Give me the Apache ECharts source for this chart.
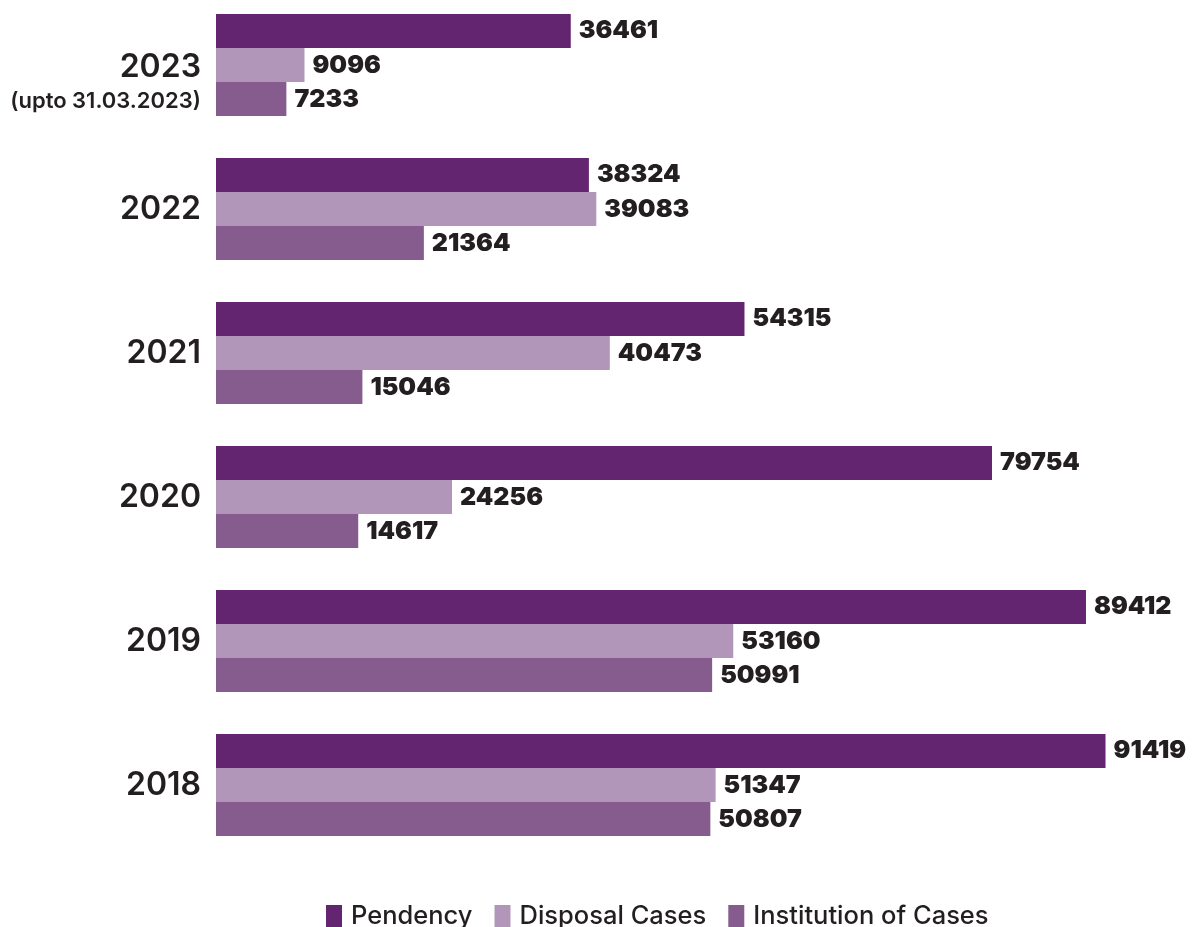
<!DOCTYPE html>
<html>
<head>
<meta charset="utf-8">
<script src="https://cdn.jsdelivr.net/npm/echarts@6/dist/echarts.min.js"></script>
<style>
  html, body { margin: 0; padding: 0; background: #ffffff; overflow: hidden; }
  /* canvas is slightly taller and lifted so the first bar group sits near the top edge */
  #chart { width: 1193px; height: 934px; margin-top: -7px; }
</style>
</head>
<body>
<div id="chart"></div>
<script>
// Years, newest first (top of the chart)
const years = ['2023', '2022', '2021', '2020', '2019', '2018'];
const yearNote = '(upto 31.03.2023)';

const pendency    = [36461, 38324, 54315, 79754, 89412, 91419];
const disposal    = [9096, 39083, 40473, 24256, 53160, 51347];
const institution = [7233, 21364, 15046, 14617, 50991, 50807];

const seriesNames = ['Pendency', 'Disposal Cases', 'Institution of Cases'];
const colors = ['#63256f', '#b196b9', '#865c8e'];

const FONT = 'Inter, "DejaVu Sans", sans-serif';

const chart = echarts.init(document.getElementById('chart'));

const labelStyle = {
  show: true,
  position: 'right',
  distance: 8,
  color: '#231f20',
  fontFamily: FONT,
  fontWeight: 900,
  fontSize: 25
};

function makeSeries(name, data, color) {
  return {
    name: name,
    type: 'bar',
    data: data,
    barGap: '0%',
    barCategoryGap: '29%',
    itemStyle: { color: color },
    label: labelStyle,
    emphasis: { disabled: true },
    animation: false
  };
}

chart.setOption({
  backgroundColor: '#ffffff',
  animation: false,
  grid: { left: 216, right: 4, top: 0, bottom: 70, containLabel: false },
  xAxis: {
    type: 'value',
    min: 0,
    max: 100000,
    show: false
  },
  yAxis: {
    type: 'category',
    inverse: true,
    data: years.map(function (y, i) {
      if (i === 0) {
        return { value: y, textStyle: { padding: [36, 0, 0, 0] } };
      }
      return y;
    }),
    axisLine: { show: false },
    axisTick: { show: false },
    splitLine: { show: false },
    axisLabel: {
      margin: 15,
      color: '#231f20',
      fontFamily: FONT,
      fontWeight: 600,
      fontSize: 32,
      align: 'right',
      formatter: function (v) {
        if (v === years[0]) {
          return '{y|' + v + '}\n{s|' + yearNote + '}';
        }
        return '{y|' + v + '}';
      },
      rich: {
        y: {
          fontFamily: FONT,
          fontWeight: 600,
          fontSize: 32,
          lineHeight: 36,
          color: '#231f20',
          align: 'right'
        },
        s: {
          fontFamily: FONT,
          fontWeight: 600,
          fontSize: 22,
          lineHeight: 32,
          color: '#231f20',
          align: 'right'
        }
      }
    }
  },
  legend: {
    left: 326,
    bottom: -2,
    padding: 0,
    itemWidth: 16,
    itemHeight: 22,
    itemGap: 22,
    icon: 'rect',
    data: seriesNames,
    textStyle: {
      color: '#231f20',
      fontFamily: FONT,
      fontWeight: 500,
      fontSize: 25.5,
      padding: [0, 0, 0, 4]
    }
  },
  series: [
    makeSeries(seriesNames[0], pendency, colors[0]),
    makeSeries(seriesNames[1], disposal, colors[1]),
    makeSeries(seriesNames[2], institution, colors[2])
  ]
});
</script>
</body>
</html>
